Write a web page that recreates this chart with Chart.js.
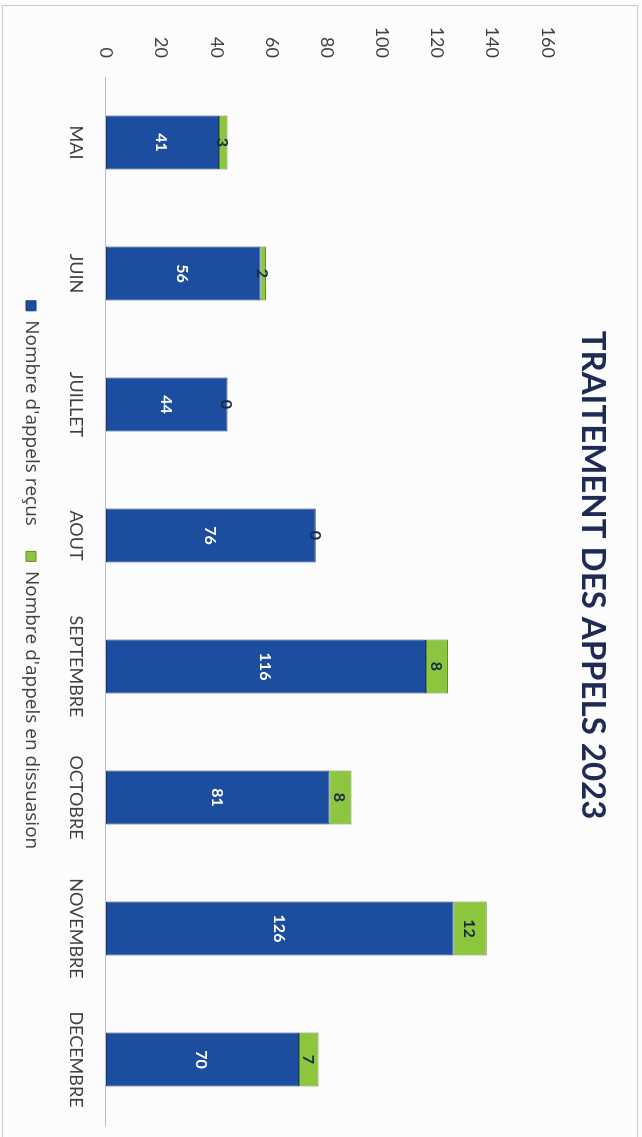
<!DOCTYPE html>
<html lang="fr">
<head>
<meta charset="utf-8">
<title>Traitement des appels 2023</title>
<script src="https://cdn.jsdelivr.net/npm/chart.js@4.4.1/dist/chart.umd.min.js"></script>
<style>
  html, body { margin: 0; padding: 0; background: #fcfcfd; overflow: hidden; }
  body { width: 642px; height: 1137px; position: relative; }
  /* the scanned chart is turned a quarter turn clockwise */
  #wrap {
    position: absolute; left: 0; top: 0;
    width: 1137px; height: 642px;
    transform-origin: 0 0;
    transform: translate(642px, 0) rotate(90deg);
  }
  #frame {
    position: absolute; left: 2px; top: 5px; width: 636px; height: 1200px;
    border: 1px solid #c9cacf; box-sizing: border-box;
  }
</style>
</head>
<body>
<div id="frame"></div>
<div id="wrap"><canvas id="appelsChart" width="1137" height="642"></canvas></div>
<script>
// ====================================
// DATA
// ====================================
const months = ['MAI', 'JUIN', 'JUILLET', 'AOUT', 'SEPTEMBRE', 'OCTOBRE', 'NOVEMBRE', 'DECEMBRE'];
const appelsRecus = [41, 56, 44, 76, 116, 81, 126, 70];
const appelsDissuasion = [3, 2, 0, 0, 8, 8, 12, 7];
const yTicks = [0, 20, 40, 60, 80, 100, 120, 140, 160];

const FONT = 'Lato, "Open Sans", sans-serif';
const TEXT = '#3f3f46';

// draws the value inside each stacked segment
const segmentLabels = {
  id: 'segmentLabels',
  afterDatasetsDraw(chart) {
    const ctx = chart.ctx;
    ctx.save();
    ctx.textAlign = 'center';
    ctx.textBaseline = 'middle';
    ctx.font = 'bold 16px ' + FONT;
    chart.data.datasets.forEach((ds, i) => {
      const meta = chart.getDatasetMeta(i);
      meta.data.forEach((bar, j) => {
        const p = bar.getProps(['x', 'y', 'base'], true);
        ctx.fillStyle = ds.labelColor;
        ctx.fillText(String(ds.data[j]), p.x, (p.y + p.base) / 2 + 1);
      });
    });
    ctx.restore();
  }
};

const ctx = document.getElementById('appelsChart').getContext('2d');
new Chart(ctx, {
  type: 'bar',
  data: {
    labels: months,
    datasets: [{
      label: "Nombre d'appels reçus",
      data: appelsRecus,
      backgroundColor: '#1c4d9e',
      borderColor: '#15397c',
      borderWidth: 1,
      borderSkipped: false,
      labelColor: '#ffffff'
    }, {
      label: "Nombre d'appels en dissuasion",
      data: appelsDissuasion,
      backgroundColor: '#8cc63f',
      borderColor: '#5f8f24',
      borderWidth: 1,
      borderSkipped: false,
      labelColor: '#1b2747'
    }]
  },
  options: {
    responsive: false,
    animation: false,
    categoryPercentage: 1,
    barPercentage: 0.412,
    layout: { padding: { left: 25, right: 12, top: 0, bottom: 11.5 } },
    plugins: {
      title: {
        display: true,
        text: 'TRAITEMENT DES APPELS 2023',
        color: '#1e2c55',
        font: { family: FONT, size: 33, weight: 'bold' },
        padding: { top: 30, bottom: 25 }
      },
      legend: {
        position: 'bottom',
        labels: {
          color: TEXT,
          boxWidth: 10,
          boxHeight: 10,
          padding: 25.5,
          font: { family: '"Open Sans", sans-serif', size: 19 }
        }
      },
      tooltip: { enabled: false }
    },
    scales: {
      x: {
        stacked: true,
        grid: { display: false, drawTicks: false },
        border: { display: true, color: '#b7bdcc', width: 1 },
        ticks: { color: TEXT, padding: 19, maxRotation: 0, autoSkip: false, font: { family: FONT, size: 18 } },
        afterFit(scale) { scale.height = 40; }
      },
      y: {
        stacked: true,
        min: 0,
        max: 160,
        grid: { display: false, drawTicks: false },
        border: { display: false },
        afterBuildTicks(scale) { scale.ticks = yTicks.map(v => ({ value: v })); },
        ticks: { color: TEXT, padding: 19, font: { family: FONT, size: 18 } },
        afterFit(scale) { scale.width = 52; }
      }
    }
  },
  plugins: [segmentLabels]
});
</script>
</body>
</html>
